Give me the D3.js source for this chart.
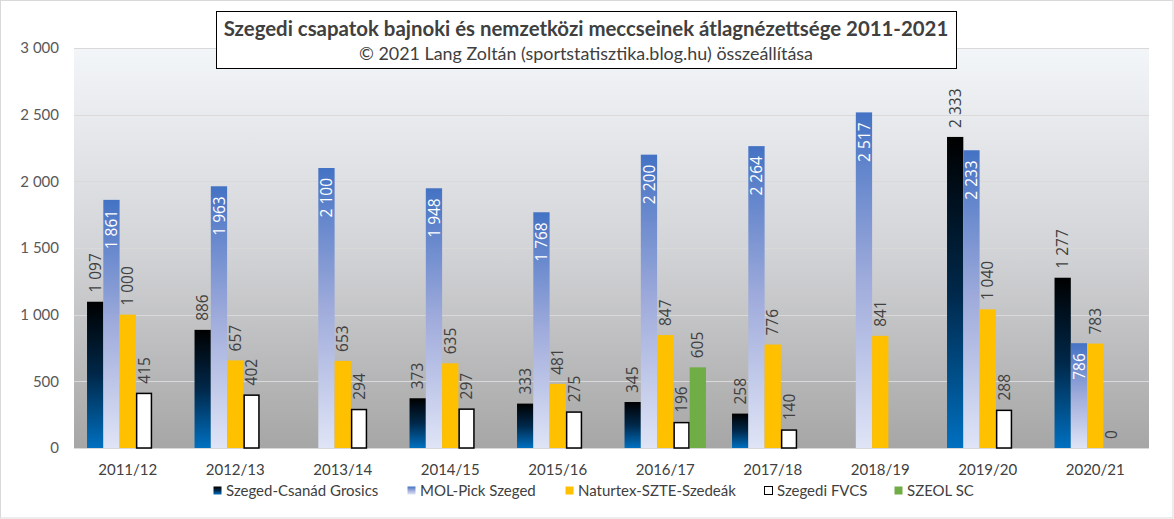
<!DOCTYPE html>
<html><head><meta charset="utf-8">
<script src="https://cdn.jsdelivr.net/npm/d3@7"></script>
<style>html,body{margin:0;padding:0;background:#fff;}svg{display:block;}</style>
</head><body>
<svg id="chart" width="1174" height="519"></svg>
<script>
const categories = ["2011/12","2012/13","2013/14","2014/15","2015/16","2016/17","2017/18","2018/19","2019/20","2020/21"];
const seriesNames = ["Szeged-Csanád Grosics","MOL-Pick Szeged","Naturtex-SZTE-Szedeák","Szegedi FVCS","SZEOL SC"];
const grosics  = [1097, 886, null, 373, 333, 345, 258, null, 2333, 1277];
const molPick  = [1861, 1963, 2100, 1948, 1768, 2200, 2264, 2517, 2233, 786];
const naturtex = [1000, 657, 653, 635, 481, 847, 776, 841, 1040, 783];
const fvcs     = [415, 402, 294, 297, 275, 196, 140, null, 288, 0];
const szeol    = [null, null, null, null, null, 605, null, null, null, null];
const yTicks   = [0, 500, 1000, 1500, 2000, 2500, 3000];
const titleText = "Szegedi csapatok bajnoki és nemzetközi meccseinek átlagnézettsége 2011-2021";
const subtitleText = "© 2021 Lang Zoltán (sportstatisztika.blog.hu) összeállítása";

const seriesValues = [grosics, molPick, naturtex, fvcs, szeol];

const svg = d3.select("#chart");
const W = 1174, H = 519;
const plot = {left: 74, right: 1149, top: 48, bottom: 448};

const loc = d3.formatLocale({decimal: ",", thousands: "\u00a0", grouping: [3], currency: ["", ""]});
const fmt = loc.format(",d");

const defs = svg.append("defs");
function grad(id, stops) {
  const g = defs.append("linearGradient").attr("id", id)
    .attr("x1", 0).attr("y1", 0).attr("x2", 0).attr("y2", 1);
  stops.forEach(s => g.append("stop").attr("offset", s[0]).attr("stop-color", s[1]));
}
grad("gBg", [[0, "#f3f6f9"], [0.5, "#d3d4d7"], [1, "#a6a6a6"]]);
grad("gBlack", [[0, "#000000"], [0.5, "#00284a"], [1, "#0070c0"]]);
grad("gBlue", [[0, "#4472c4"], [0.5, "#9fabdb"], [1, "#dfe4f6"]]);

const fills = ["url(#gBlack)", "url(#gBlue)", "#ffc000", "#ffffff", "#70ad47"];
const strokes = [null, null, null, "#000000", null];

// outer border
svg.append("rect").attr("x", 0.5).attr("y", 0.5).attr("width", W - 1.5).attr("height", H - 1.5)
  .attr("fill", "#fff").attr("stroke", "#d9d9d9");

const x = d3.scaleBand().domain(categories).range([plot.left, plot.right]).paddingInner(0).paddingOuter(0);
const x1 = d3.scaleBand().domain(d3.range(seriesNames.length)).range([0, x.bandwidth()]).paddingInner(0).paddingOuter(0.8);
const y = d3.scaleLinear().domain([0, 3000]).range([plot.bottom, plot.top]);

// plot background
svg.append("rect").attr("x", plot.left).attr("y", plot.top)
  .attr("width", plot.right - plot.left).attr("height", plot.bottom - plot.top)
  .attr("fill", "url(#gBg)");

// gridlines
svg.append("g").selectAll("line").data(yTicks).join("line")
  .attr("x1", plot.left).attr("x2", plot.right)
  .attr("y1", d => Math.round(y(d)) + 0.5).attr("y2", d => Math.round(y(d)) + 0.5)
  .attr("stroke", "#d9d9d9").attr("stroke-width", 1);

// y axis labels
const yAxis = d3.axisLeft(y).tickValues(yTicks).tickFormat(fmt).tickSize(0).tickPadding(0);
const gy = svg.append("g").attr("transform", `translate(59,0)`).call(yAxis);
gy.select(".domain").remove();
gy.selectAll("text").attr("font-family", "Lato").attr("font-size", "15px").attr("fill", "#595959");

// x axis labels
const xAxis = d3.axisBottom(x).tickSize(0).tickPadding(0);
const gx = svg.append("g").attr("transform", `translate(0,${plot.bottom + 16})`).call(xAxis);
gx.select(".domain").remove();
gx.selectAll("text").attr("font-family", "Lato").attr("font-size", "15px").attr("fill", "#404040");

// bars
const barData = [];
seriesValues.forEach((vals, si) => {
  vals.forEach((v, ci) => {
    if (v !== null) barData.push({si, ci, v, cat: categories[ci]});
  });
});

const gBars = svg.append("g");
gBars.selectAll("rect").data(barData.filter(d => d.v > 0)).join("rect")
  .attr("x", d => x(d.cat) + x1(d.si) + (strokes[d.si] ? 0.75 : 0))
  .attr("y", d => y(d.v) + (strokes[d.si] ? 0.75 : 0))
  .attr("width", d => x1.bandwidth() - (strokes[d.si] ? 1.5 : 0))
  .attr("height", d => y(0) - y(d.v) - (strokes[d.si] ? 0.75 : 0))
  .attr("fill", d => fills[d.si])
  .attr("stroke", d => strokes[d.si] || "none")
  .attr("stroke-width", 1.5);

// labels
const gLab = svg.append("g");
gLab.selectAll("text").data(barData).join("text")
  .attr("transform", d => {
    const cx = x(d.cat) + x1(d.si) + x1.bandwidth() / 2;
    const ty = d.si === 1 ? y(d.v) + 10 : y(d.v) - 9;
    return `translate(${cx},${ty}) rotate(-90)`;
  })
  .attr("text-anchor", d => d.si === 1 ? "end" : "start")
  .attr("dy", "0.36em")
  .attr("font-family", "Open Sans")
  .attr("font-size", "15.5px")
  .attr("fill", d => d.si === 1 ? "#ffffff" : "#404040")
  .text(d => fmt(d.v));

// title box
svg.append("rect").attr("x", 216.5).attr("y", 11.5).attr("width", 740).attr("height", 57)
  .attr("fill", "#fff").attr("stroke", "#000").attr("stroke-width", 1);
svg.append("text").attr("x", 586).attr("y", 36).attr("text-anchor", "middle")
  .attr("font-family", "Lato").attr("font-weight", "bold").attr("font-size", "20.4px")
  .attr("fill", "#404040").text(titleText);
svg.append("text").attr("x", 586).attr("y", 60).attr("text-anchor", "middle")
  .attr("font-family", "Lato").attr("font-size", "17.9px")
  .attr("fill", "#404040").text(subtitleText);

// legend
const legendX = [213, 407, 565, 764, 894];
const gLeg = svg.append("g");
seriesNames.forEach((name, i) => {
  const g = gLeg.append("g").attr("transform", `translate(${legendX[i]},491)`);
  g.append("rect").attr("x", 0.5).attr("y", -4.5).attr("width", 8).attr("height", 8)
    .attr("fill", fills[i]).attr("stroke", strokes[i] || "none").attr("stroke-width", 1);
  g.append("text").attr("x", 13).attr("y", 0).attr("dy", "0.35em")
    .attr("font-family", "Lato").attr("font-size", "15px").attr("fill", "#404040").text(name);
});
</script>
</body></html>
